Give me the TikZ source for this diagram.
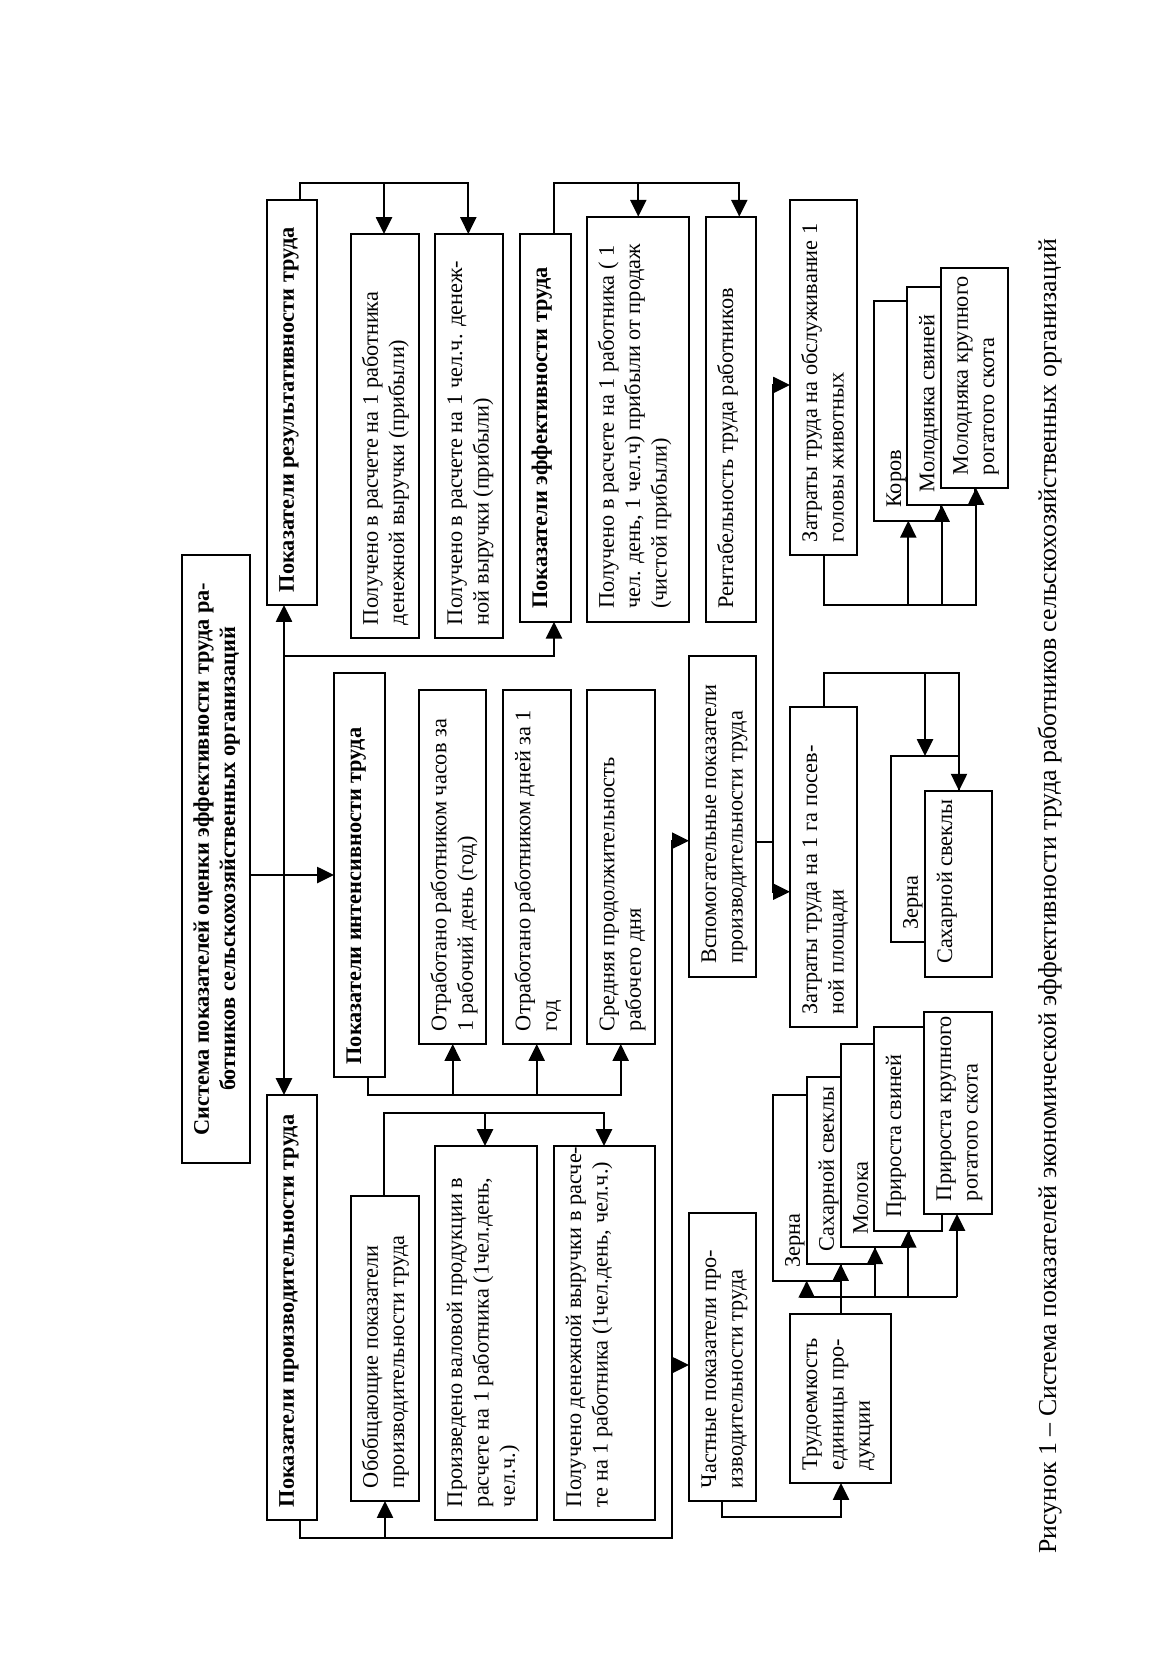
\documentclass[tikz,border=0pt]{standalone}
\usepackage{fontspec}
\setmainfont{Liberation Serif}
\usetikzlibrary{arrows.meta}
% #1 name, #2 x1, #3 y1 (top), #4 x2, #5 y2 (bottom), #6 font, #7 rows
\newcommand\mkbox[7]{%
  \pgfmathsetlengthmacro\bxL{(#5-#3)*0.511pt}%
  \pgfmathsetlengthmacro\bxH{(#4-#2)*0.511pt}%
  \node[bx, anchor=north west] (#1) at (#2,#5) {\parbox[c][\bxH][t]{\bxL}{\vspace*{4.4pt}\hspace*{6.6pt}#6\begin{tabular}[t]{@{}l@{}}#7\end{tabular}}};%
}
\newcommand\mkboxc[7]{%
  \pgfmathsetlengthmacro\bxL{(#5-#3)*0.511pt}%
  \pgfmathsetlengthmacro\bxH{(#4-#2)*0.511pt}%
  \node[bx, anchor=north west] (#1) at (#2,#5) {\parbox[c][\bxH][t]{\bxL}{\vspace*{4.4pt}\centering#6\begin{tabular}[t]{@{}c@{}}#7\end{tabular}}};%
}
\begin{document}
\begin{tikzpicture}[x=0.511pt,y=-0.511pt,
  bx/.style={draw, line width=1pt, fill=white, rotate=90, inner sep=0pt, outer sep=0pt,
    font=\fontsize{11.4}{13.5}\selectfont},
  ln/.style={line width=1pt},
  arr/.style={-{Triangle[length=8.6pt,width=8.2pt]}}]
\fill[white] (0,0) rectangle (1165,1654);
\useasboundingbox (0,0) rectangle (1165,1654);

% main boxes
\mkboxc{hdr}{181.7}{555}{250}{1163}{\bfseries}{Система показателей оценки эффективности труда ра-\\ботников сельскохозяйственных организаций}
\mkbox{res}{266.7}{200}{316.7}{605}{\bfseries}{Показатели результативности труда}
\mkbox{res1}{350.7}{234}{419}{638}{}{Получено в расчете на 1 работника\\денежной выручки (прибыли)}
\mkbox{res2}{435}{234}{503.3}{638}{}{Получено в расчете на 1 чел.ч. денеж-\\ной выручки (прибыли)}
\mkbox{eff}{520}{234}{570.7}{621.7}{\bfseries}{Показатели эффективности труда}
\mkbox{eff1}{586.7}{216.7}{689.3}{621.7}{}{Получено в расчете на 1 работника ( 1\\чел. день, 1 чел.ч) прибыли от продаж\\(чистой прибыли)}
\mkbox{eff2}{706}{216.7}{756}{621.7}{}{Рентабельность труда работников}
\mkbox{int}{334}{672.7}{385}{1077.3}{\bfseries}{Показатели интенсивности труда}
\mkbox{int1}{419.3}{690}{485.7}{1044}{}{Отработано работником часов за\\1 рабочий день (год)}
\mkbox{int2}{503.3}{690}{570.7}{1044}{}{Отработано работником дней за 1\\год}
\mkbox{int3}{587.3}{690}{655}{1044}{}{Средняя продолжительность\\рабочего дня}
\mkbox{prod}{266.7}{1095}{316.7}{1520}{\bfseries}{Показатели производительности труда}
\mkbox{gen}{350.7}{1195.7}{419}{1501}{}{Обобщающие показатели\\производительности труда}
\mkbox{gen1}{435}{1146}{537}{1520}{}{Произведено валовой продукции в\\расчете на 1 работника (1чел.день,\\чел.ч.)}
\mkbox{gen2}{554}{1146}{655}{1520}{}{Получено денежной выручки в расче-\\те на 1 работника (1чел.день, чел.ч.)}
\mkbox{aux}{689}{656}{756}{976.7}{}{Вспомогательные показатели\\производительности труда}
\mkbox{part}{689}{1212.7}{756}{1501}{}{Частные показатели про-\\изводительности труда}
\mkbox{cost1}{790}{200}{857.3}{555}{}{Затраты труда на обслуживание 1\\головы животных}
\mkbox{cost2}{790}{707.3}{857.3}{1027.3}{}{Затраты труда на 1 га посев-\\ной площади}
\mkbox{lab}{790}{1314}{891}{1483}{}{Трудоемкость\\единицы про-\\дукции}

% stacked boxes (top)
\mkbox{a1}{874}{300.7}{941}{520.7}{}{Коров}
\mkbox{a2}{907.3}{286.7}{975}{505}{}{Молодняка свиней}
\mkbox{a3}{940.7}{268.3}{1008}{488}{}{Молодняка крупного\\рогатого скота}
% stacked boxes (middle)
\mkbox{c1}{890.7}{756}{959}{942.3}{}{Зерна}
\mkbox{c2}{925}{790.7}{992}{976.7}{}{Сахарной свеклы}
% stacked boxes (bottom)
\mkbox{p1}{772.7}{1095}{840.7}{1280.7}{}{Зерна}
\mkbox{p2}{806.7}{1077.3}{874.7}{1264}{}{Сахарной свеклы}
\mkbox{p3}{840.7}{1044}{908.7}{1247.3}{}{Молока}
\mkbox{p4}{874}{1027.3}{941.7}{1230.7}{}{Прироста свиней}
\mkbox{p5}{924}{1012.3}{992}{1214}{}{Прироста крупного\\рогатого скота}

% connectors
\coordinate (b1) at (284,875);
\draw[ln,arr] (hdr.south |- b1) -- (int.north |- b1);
\draw[ln,arr] (b1) -- (res.west -| b1);
\draw[ln,arr] (b1) -- (prod.east -| b1);
\draw[ln,arr] (284,656) -| (eff.west -| 554,0);

\draw[ln,arr] (res.east -| 300,0) |- (384,183.3) -- (res1.east -| 384,0);
\draw[ln,arr] (384,183.3) -| (res2.east -| 468.3,0);

\draw[ln,arr] (eff.east -| 554,0) |- (638.3,182.7) -- (eff1.east -| 638.3,0);
\draw[ln,arr] (638.3,182.7) -| (eff2.east -| 739.3,0);

\draw[ln,arr] (int.west -| 368.3,0) |- (452.7,1095) -- (int1.west -| 452.7,0);
\draw[ln,arr] (452.7,1095) -| (int2.west -| 536.7,0);
\draw[ln,arr] (536.7,1095) -| (int3.west -| 620.7,0);

\draw[ln,arr] (gen.east -| 384,0) |- (485,1113.3) -- (gen1.east -| 485,0);
\draw[ln,arr] (485,1113.3) -| (gen2.east -| 604,0);

\draw[ln,arr] (prod.west -| 300,0) |- (671.7,1538) -- (671.7,840.7) -- (aux.north |- 0,840.7);
\draw[ln,arr] (385,1538) -- (gen.west -| 385,0);
\draw[ln,arr] (671.7,1365) -- (part.north |- 0,1365);

\draw[ln] (aux.south |- 0,841.7) -- (773,841.7);
\draw[ln,arr] (773,841.7) |- (cost1.north |- 0,385);
\draw[ln,arr] (773,841.7) |- (cost2.north |- 0,891.7);

\draw[ln,arr] (cost1.west -| 824,0) |- (908.3,605) -- (a1.west -| 908.3,0);
\draw[ln,arr] (908.3,605) -| (a2.west -| 941.7,0);
\draw[ln,arr] (941.7,605) -| (a3.west -| 976,0);

\draw[ln,arr] (cost2.east -| 824,0) |- (925,672.7) -- (c1.east -| 925,0);
\draw[ln,arr] (925,672.7) -| (c2.east -| 959,0);

\draw[ln,arr] (part.west -| 721.7,0) |- (841,1517) -- (lab.west -| 841,0);

\draw[ln,arr] (lab.east -| 840.7,0) -- (p2.west -| 840.7,0);
\draw[ln] (800,1297.3) -- (957,1297.3);
\draw[ln,arr] (806.7,1297.3) -- (p1.west -| 806.7,0);
\draw[ln,arr] (875,1297.3) -- (p3.west -| 875,0);
\draw[ln,arr] (908.3,1297.3) -- (p4.west -| 908.3,0);
\draw[ln,arr] (957,1297.3) -- (p5.west -| 957,0);

% caption
\node[rotate=90, anchor=base west, inner sep=0pt, font=\fontsize{13.2}{15}\selectfont] (cap) at (1056,1554)
  {Рисунок 1 – Система показателей экономической эффективности труда работников сельскохозяйственных организаций};
\end{tikzpicture}
\end{document}
